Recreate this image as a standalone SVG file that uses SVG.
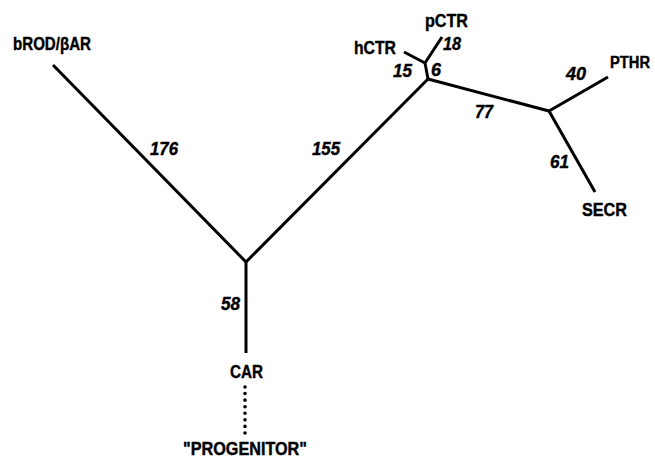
<svg xmlns="http://www.w3.org/2000/svg" width="655" height="459" viewBox="0 0 655 459">
<style>
.e{stroke:#000;stroke-width:3;fill:none;stroke-linecap:butt}
.d{stroke:#000;stroke-width:3.6;fill:none;stroke-linecap:round;stroke-dasharray:0 6.57}
.lab{font-family:"Liberation Sans",Arial,sans-serif;font-weight:bold;font-size:17.5px;fill:#000;stroke:#000;stroke-width:0.4}
.num{font-family:"Liberation Sans",Arial,sans-serif;font-weight:bold;font-style:italic;font-size:17.5px;fill:#000;stroke:#000;stroke-width:0.4}
</style>
<rect width="655" height="459" fill="#fff"/>
<g id="connectors">
<line class="e" x1="53" y1="65" x2="246" y2="262"/>
<line class="e" x1="246" y1="262" x2="428" y2="79"/>
<line class="e" x1="246" y1="262" x2="246" y2="353"/>
<line class="e" x1="428" y1="79" x2="425" y2="63"/>
<line class="e" x1="425" y1="63" x2="404" y2="52"/>
<line class="e" x1="425" y1="63" x2="442" y2="37"/>
<line class="e" x1="428" y1="79" x2="549" y2="111"/>
<line class="e" x1="549" y1="111" x2="608" y2="77"/>
<line class="e" x1="549" y1="111" x2="595" y2="192"/>
<line class="d" x1="245" y1="387" x2="245" y2="433.5"/>
<text class="num" x="150" y="155" textLength="28" lengthAdjust="spacingAndGlyphs">176</text>
<text class="num" x="312" y="155" textLength="28" lengthAdjust="spacingAndGlyphs">155</text>
<text class="num" x="443" y="50" textLength="18" lengthAdjust="spacingAndGlyphs">18</text>
<text class="num" x="393" y="77" textLength="19" lengthAdjust="spacingAndGlyphs">15</text>
<text class="num" x="431" y="76" textLength="10" lengthAdjust="spacingAndGlyphs">6</text>
<text class="num" x="475" y="118" textLength="18" lengthAdjust="spacingAndGlyphs">77</text>
<text class="num" x="566" y="80" textLength="20" lengthAdjust="spacingAndGlyphs">40</text>
<text class="num" x="550" y="168" textLength="19" lengthAdjust="spacingAndGlyphs">61</text>
<text class="num" x="221" y="310" textLength="19" lengthAdjust="spacingAndGlyphs">58</text>
</g>
<g id="bROD"><text class="lab" x="13" y="50" textLength="78" lengthAdjust="spacingAndGlyphs">bROD/βAR</text></g>
<g id="hCTR"><text class="lab" x="354" y="54" textLength="42" lengthAdjust="spacingAndGlyphs">hCTR</text></g>
<g id="pCTR"><text class="lab" x="425" y="27" textLength="43" lengthAdjust="spacingAndGlyphs">pCTR</text></g>
<g id="PTHR"><text class="lab" x="610" y="68" style="font-size:16px" textLength="40" lengthAdjust="spacingAndGlyphs">PTHR</text></g>
<g id="SECR"><text class="lab" x="582" y="216" textLength="45" lengthAdjust="spacingAndGlyphs">SECR</text></g>
<g id="CAR"><text class="lab" x="230" y="378" textLength="33" lengthAdjust="spacingAndGlyphs">CAR</text></g>
<g id="PROGENITOR"><text class="lab" x="183" y="455" textLength="124" lengthAdjust="spacingAndGlyphs">"PROGENITOR"</text></g>
</svg>
